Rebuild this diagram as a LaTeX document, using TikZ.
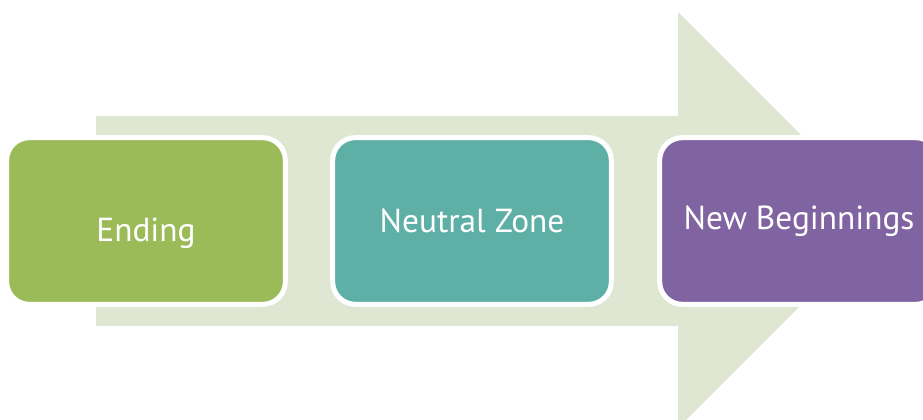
\documentclass[tikz,border=0pt]{standalone}
\usepackage{fontspec}
\setmainfont{PT Sans}
\definecolor{arrowtint}{HTML}{DFE7D2}
\definecolor{endgreen}{HTML}{9BBB59}
\definecolor{zoneteal}{HTML}{5EAFA6}
\definecolor{newpurple}{HTML}{8064A2}

\begin{document}
\begin{tikzpicture}[x=0.75pt, y=-0.75pt,
  phase/.style={draw=white, line width=3.75pt, rounded corners=17pt,
    minimum width=209pt, minimum height=125pt, inner sep=0pt,
    text=white, font=\fontsize{25}{30}\selectfont},
  caption/.style={text=white, font=\fontsize{25}{30}\selectfont}]
 \useasboundingbox (0,0) rectangle (923,420);

 % big arrow behind the phases
 \fill[arrowtint] (96,116) -- (678,116) -- (678,12) -- (886,220)
   -- (678,428) -- (678,326) -- (96,326) -- cycle;

 \node[phase, fill=endgreen] (ending) at (146,221) {};
 \node[caption] (endtext) at ([yshift=-9pt]ending.center) {Ending};
 \node[phase, fill=zoneteal] (zone) at (472,221) {Neutral Zone};
 \node[phase, fill=newpurple] (begin) at (799,221) {New Beginnings};
\end{tikzpicture}
\end{document}
